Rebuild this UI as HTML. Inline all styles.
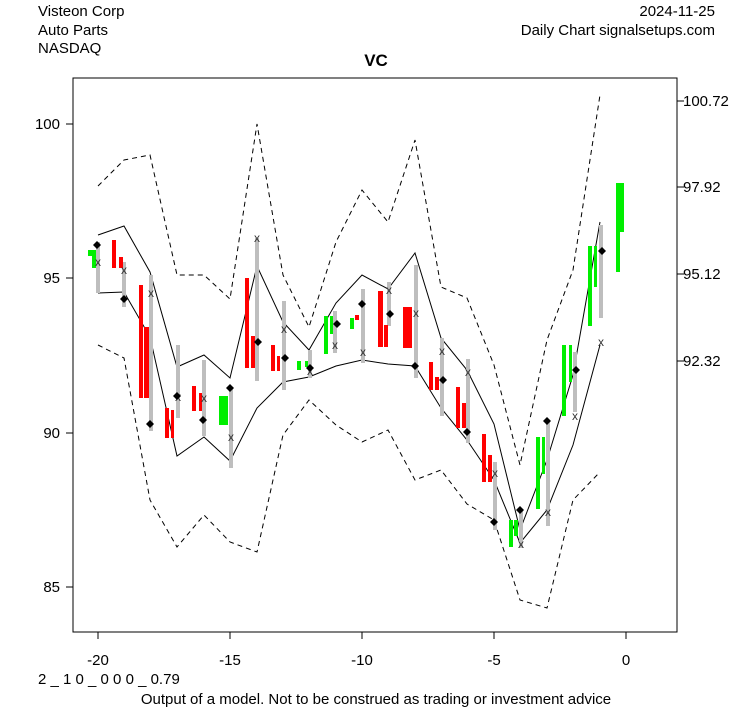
<!DOCTYPE html>
<html><head><style>body{margin:0;background:#fff}svg{display:block}</style></head><body>
<svg width="753" height="708" xmlns="http://www.w3.org/2000/svg" font-family="Liberation Sans, Arial, sans-serif">
<rect width="753" height="708" fill="#fff"/>
<g font-size="15" fill="#000">
<text x="38" y="16">Visteon Corp</text>
<text x="38" y="35">Auto Parts</text>
<text x="38" y="53">NASDAQ</text>
<text x="715" y="16" text-anchor="end">2024-11-25</text>
<text x="715" y="35" text-anchor="end">Daily Chart signalsetups.com</text>
<text x="376" y="66" text-anchor="middle" font-weight="bold" font-size="17">VC</text>
<text x="38" y="684">2 _ 1 0 _ 0 0 0 _ 0.79</text>
<text x="376" y="704" text-anchor="middle">Output of a model. Not to be construed as trading or investment advice</text>
</g>
<rect x="73" y="78" width="604" height="554" fill="none" stroke="#000"/>
<g stroke="#000">
<line x1="66" y1="124" x2="73" y2="124"/><line x1="66" y1="278" x2="73" y2="278"/><line x1="66" y1="433" x2="73" y2="433"/><line x1="66" y1="587" x2="73" y2="587"/>
<line x1="677" y1="101" x2="684" y2="101"/><line x1="677" y1="187" x2="684" y2="187"/><line x1="677" y1="274" x2="684" y2="274"/><line x1="677" y1="361" x2="684" y2="361"/>
<line x1="98" y1="632" x2="98" y2="639"/><line x1="230" y1="632" x2="230" y2="639"/><line x1="362" y1="632" x2="362" y2="639"/><line x1="494" y1="632" x2="494" y2="639"/><line x1="626" y1="632" x2="626" y2="639"/>
</g>
<g font-size="15" fill="#000">
<text x="60" y="129" text-anchor="end">100</text><text x="60" y="283" text-anchor="end">95</text><text x="60" y="438" text-anchor="end">90</text><text x="60" y="592" text-anchor="end">85</text>
<text x="683" y="106">100.72</text><text x="683" y="192">97.92</text><text x="683" y="279">95.12</text><text x="683" y="366">92.32</text>
<text x="98" y="665" text-anchor="middle">-20</text><text x="230" y="665" text-anchor="middle">-15</text><text x="362" y="665" text-anchor="middle">-10</text><text x="494" y="665" text-anchor="middle">-5</text><text x="626" y="665" text-anchor="middle">0</text>
</g>
<g fill="none" stroke="#000" stroke-width="1">
<polyline points="98,235 124,226 150,272 177,367 204,355 230,378 257,266 283,322 309,350 336,303 362,275 388,289 415,253 441,338 467,370 494,424 520,530 547,460 573,375 600,222"/>
<polyline points="98,293 124,292 150,337 177,456 204,437 230,461 257,408 283,382 309,377 336,366 362,360 388,364 415,366 441,408 467,440 494,480 520,543 547,510 573,445 600,345"/>
<g stroke-dasharray="5,4">
<polyline points="98,186 124,160 150,155 177,275 204,275 230,299 257,124 283,275 309,327 336,242 362,190 388,222 415,140 441,287 467,298 494,365 520,465 547,340 573,270 600,95"/>
<polyline points="98,345 124,358 150,500 177,547 204,515 230,542 257,552 283,435 309,400 336,425 362,442 388,430 415,480 441,470 467,504 494,520 520,600 547,608 573,500 600,472"/>
</g></g>
<g fill="#bebebe">
<rect x="96" y="242" width="4" height="51"/><rect x="122" y="262" width="4" height="45"/><rect x="149" y="275" width="4" height="156"/><rect x="176" y="345" width="4" height="73"/><rect x="202" y="360" width="4" height="76"/><rect x="229" y="388" width="4" height="80"/><rect x="255" y="238" width="4" height="143"/><rect x="282" y="301" width="4" height="89"/><rect x="308" y="350" width="4" height="28"/><rect x="333" y="311" width="4" height="42"/><rect x="361" y="289" width="4" height="74"/><rect x="387" y="282" width="4" height="44"/><rect x="414" y="265" width="4" height="113"/><rect x="440" y="338" width="4" height="78"/><rect x="466" y="359" width="4" height="84"/><rect x="493" y="462" width="4" height="68"/><rect x="519" y="510" width="4" height="38"/><rect x="546" y="420" width="4" height="106"/><rect x="573" y="352" width="4" height="60"/><rect x="599" y="225" width="4" height="93"/>
</g>
<g fill="#00ee00">
<rect x="88" y="250" width="5" height="6"/><rect x="92" y="250" width="4" height="18"/><rect x="219" y="396" width="9" height="29"/><rect x="297" y="361" width="4" height="9"/><rect x="305" y="361" width="3" height="6"/><rect x="324" y="316" width="4" height="38"/><rect x="330" y="316" width="3" height="18"/><rect x="350" y="318" width="4" height="11"/><rect x="509" y="520" width="4" height="27"/><rect x="514" y="520" width="4" height="16"/><rect x="536" y="437" width="4" height="72"/><rect x="542" y="437" width="3" height="37"/><rect x="562" y="345" width="4" height="71"/><rect x="569" y="345" width="3" height="37"/><rect x="588" y="246" width="4" height="80"/><rect x="594" y="246" width="3" height="41"/><rect x="616" y="183" width="4" height="89"/><rect x="620" y="183" width="4" height="49"/>
</g>
<g fill="#ff0000">
<rect x="112" y="240" width="4" height="28"/><rect x="119" y="257" width="4" height="11"/><rect x="139" y="285" width="4" height="113"/><rect x="144" y="327" width="5" height="71"/><rect x="165" y="408" width="4" height="30"/><rect x="171" y="410" width="3" height="28"/><rect x="192" y="386" width="4" height="25"/><rect x="199" y="393" width="3" height="18"/><rect x="245" y="278" width="4" height="90"/><rect x="251" y="336" width="4" height="32"/><rect x="271" y="345" width="4" height="26"/><rect x="277" y="356" width="3" height="15"/><rect x="355" y="315" width="4" height="5"/><rect x="378" y="291" width="5" height="56"/><rect x="384" y="325" width="4" height="22"/><rect x="403" y="307" width="9" height="41"/><rect x="429" y="362" width="4" height="28"/><rect x="435" y="377" width="4" height="13"/><rect x="456" y="387" width="4" height="41"/><rect x="462" y="403" width="4" height="25"/><rect x="482" y="434" width="4" height="48"/><rect x="488" y="455" width="4" height="27"/>
</g>
<g font-size="12" fill="#333" text-anchor="middle">
<text x="98" y="266">x</text><text x="124" y="274">x</text><text x="151" y="297">x</text><text x="178" y="401">x</text><text x="204" y="402">x</text><text x="231" y="441">x</text><text x="257" y="242">x</text><text x="284" y="333">x</text><text x="310" y="375">x</text><text x="335" y="349">x</text><text x="363" y="356">x</text><text x="389" y="294">x</text><text x="416" y="317">x</text><text x="442" y="355">x</text><text x="468" y="376">x</text><text x="495" y="477">x</text><text x="521" y="548">x</text><text x="548" y="516">x</text><text x="575" y="420">x</text><text x="601" y="346">x</text>
</g>
<g fill="#000">
<path d="M93 245l4-4 4 4-4 4z"/><path d="M120 299l4-4 4 4-4 4z"/><path d="M146 424l4-4 4 4-4 4z"/><path d="M173 396l4-4 4 4-4 4z"/><path d="M199 420l4-4 4 4-4 4z"/><path d="M226 388l4-4 4 4-4 4z"/><path d="M254 342l4-4 4 4-4 4z"/><path d="M281 358l4-4 4 4-4 4z"/><path d="M306 368l4-4 4 4-4 4z"/><path d="M333 324l4-4 4 4-4 4z"/><path d="M358 304l4-4 4 4-4 4z"/><path d="M386 314l4-4 4 4-4 4z"/><path d="M411 366l4-4 4 4-4 4z"/><path d="M439 380l4-4 4 4-4 4z"/><path d="M463 432l4-4 4 4-4 4z"/><path d="M490 522l4-4 4 4-4 4z"/><path d="M516 510l4-4 4 4-4 4z"/><path d="M543 421l4-4 4 4-4 4z"/><path d="M572 370l4-4 4 4-4 4z"/><path d="M598 251l4-4 4 4-4 4z"/>
</g>
</svg>
</body></html>
